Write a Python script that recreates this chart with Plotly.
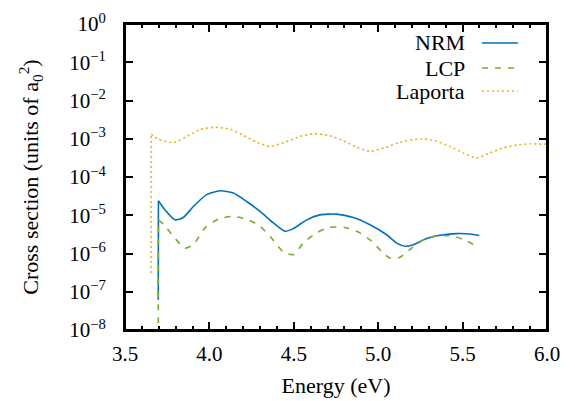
import plotly.graph_objects as go

# ---- data (energy in eV, cross section in units of a0^2, given as log10) ----
nrm_energy = [3.697, 3.698, 3.737, 3.796, 3.845, 3.905, 3.984, 4.063, 4.142, 4.221,
              4.300, 4.379, 4.448, 4.497, 4.577, 4.655, 4.754, 4.853, 4.951, 5.050,
              5.110, 5.159, 5.208, 5.287, 5.386, 5.465, 5.544, 5.599]
nrm_log = [-7.21, -4.62, -4.86, -5.12, -5.06, -4.77, -4.46, -4.36, -4.42, -4.64,
           -4.90, -5.20, -5.42, -5.35, -5.12, -4.99, -4.97, -5.06, -5.25, -5.51,
           -5.73, -5.81, -5.77, -5.61, -5.51, -5.48, -5.49, -5.53]

lcp_energy = [3.697, 3.698, 3.727, 3.786, 3.855, 3.905, 3.974, 4.053, 4.132, 4.221,
              4.300, 4.369, 4.438, 4.497, 4.556, 4.635, 4.704, 4.803, 4.882, 4.962,
              5.021, 5.070, 5.129, 5.198, 5.277, 5.356, 5.445, 5.524, 5.593]
lcp_log = [-8.5, -5.12, -5.23, -5.55, -5.86, -5.77, -5.33, -5.10, -5.03, -5.10,
           -5.29, -5.60, -5.96, -6.03, -5.73, -5.46, -5.32, -5.32, -5.44, -5.68,
           -5.95, -6.12, -6.10, -5.86, -5.62, -5.53, -5.55, -5.67, -5.84]

lap_energy = [3.654, 3.655, 3.697, 3.786, 3.866, 3.944, 4.033, 4.122, 4.201, 4.280,
              4.359, 4.448, 4.537, 4.616, 4.704, 4.793, 4.873, 4.951, 5.040, 5.129,
              5.248, 5.336, 5.425, 5.504, 5.579, 5.662, 5.741, 5.830, 5.899, 5.969, 6.0]
lap_log = [-6.51, -2.88, -3.01, -3.10, -2.94, -2.76, -2.70, -2.75, -2.91, -3.09,
           -3.20, -3.09, -2.94, -2.87, -2.91, -3.05, -3.22, -3.33, -3.23, -3.09,
           -3.00, -3.05, -3.20, -3.37, -3.50, -3.37, -3.24, -3.16, -3.13, -3.14, -3.14]

series_names = ["NRM", "LCP", "Laporta"]
series_colors = ["#0072BD", "#77AC30", "#EDB120"]
series_dash = ["solid", "6px,7px", "2px,3px"]

ytick_vals = [10.0 ** k for k in range(-8, 1)]
ytick_text = ["10<sup>%s</sup>" % (str(k).replace("-", "\u2212")) for k in range(-8, 1)]
xtick_vals = [3.5, 4.0, 4.5, 5.0, 5.5, 6.0]
xtick_text = ["3.5", "4.0", "4.5", "5.0", "5.5", "6.0"]

FONT = "Liberation Serif"
FS = 21
FT = 22

fig = go.Figure()
all_data = [(nrm_energy, nrm_log), (lcp_energy, lcp_log), (lap_energy, lap_log)]
for (xs, ls), name, col, dash in zip(all_data, series_names, series_colors, series_dash):
    ys = [10.0 ** v for v in ls]
    # threshold jump (first two points) drawn straight
    fig.add_trace(go.Scatter(
        x=xs[:2], y=ys[:2], mode="lines", name=name,
        line=dict(color=col, width=1.6, dash=dash), showlegend=False))
    # smooth remainder of the curve
    fig.add_trace(go.Scatter(
        x=xs[1:], y=ys[1:], mode="lines", name=name,
        line=dict(color=col, width=1.6, dash=dash, shape="spline", smoothing=0.6),
        showlegend=False))

# legend drawn manually (text right-aligned, line sample on the right)
leg_y = [0.938, 0.856, 0.781]
for name, col, dash, yy in zip(series_names, series_colors, series_dash, leg_y):
    fig.add_annotation(x=0.810, y=yy, xref="paper", yref="paper", text=name,
                       showarrow=False, xanchor="right", yanchor="middle",
                       font=dict(family=FONT, size=FT, color="black"))
    fig.add_shape(type="line", xref="paper", yref="paper", x0=0.846, x1=0.931,
                  y0=yy, y1=yy, line=dict(color=col, width=1.6, dash=dash))

# plot frame (four edges, paper coordinates = plot area)
frame_x0 = [0, 1, 0, 0]
frame_x1 = [0, 1, 1, 1]
frame_y0 = [0, 0, 0, 1]
frame_y1 = [1, 1, 0, 1]
for a, b, c, d in zip(frame_x0, frame_x1, frame_y0, frame_y1):
    fig.add_shape(type="line", xref="paper", yref="paper", x0=a, x1=b, y0=c, y1=d,
                  line=dict(color="black", width=2), layer="above")

fig.update_xaxes(
    range=[3.5, 6.0], tickvals=xtick_vals, ticktext=xtick_text,
    ticks="inside", ticklen=8, tickwidth=1.5, tickcolor="black",
    minor=dict(dtick=0.1, tick0=3.5, ticks="inside", ticklen=4, tickwidth=1.5, tickcolor="black"),
    showline=True, linewidth=2, linecolor="black", mirror="allticks",
    showgrid=False, zeroline=False, automargin=False, ticklabelstandoff=4,
    tickfont=dict(family=FONT, size=FS, color="black"),
    title=dict(text="Energy (eV)", font=dict(family=FONT, size=FT, color="black"), standoff=12),
)
fig.update_yaxes(
    type="log", range=[-8, 0], tickvals=ytick_vals, ticktext=ytick_text,
    ticks="inside", ticklen=8, tickwidth=1.5, tickcolor="black",
    showline=True, linewidth=2, linecolor="black", mirror="allticks",
    showgrid=False, zeroline=False, automargin=False, ticklabelstandoff=13,
    tickfont=dict(family=FONT, size=FS, color="black"),
    title=dict(text="Cross section (units of a<sub>0</sub><sup>2</sup>)",
               font=dict(family=FONT, size=FT, color="black"), standoff=24),
)
fig.update_layout(
    width=575, height=401,
    margin=dict(l=125, r=28, t=24, b=71, autoexpand=False),
    paper_bgcolor="white", plot_bgcolor="white",
    font=dict(family=FONT, size=FS, color="black"),
    showlegend=False,
)
fig.write_html("out.html", config={"displayModeBar": False},
               post_script="document.body.style.margin='0';")
